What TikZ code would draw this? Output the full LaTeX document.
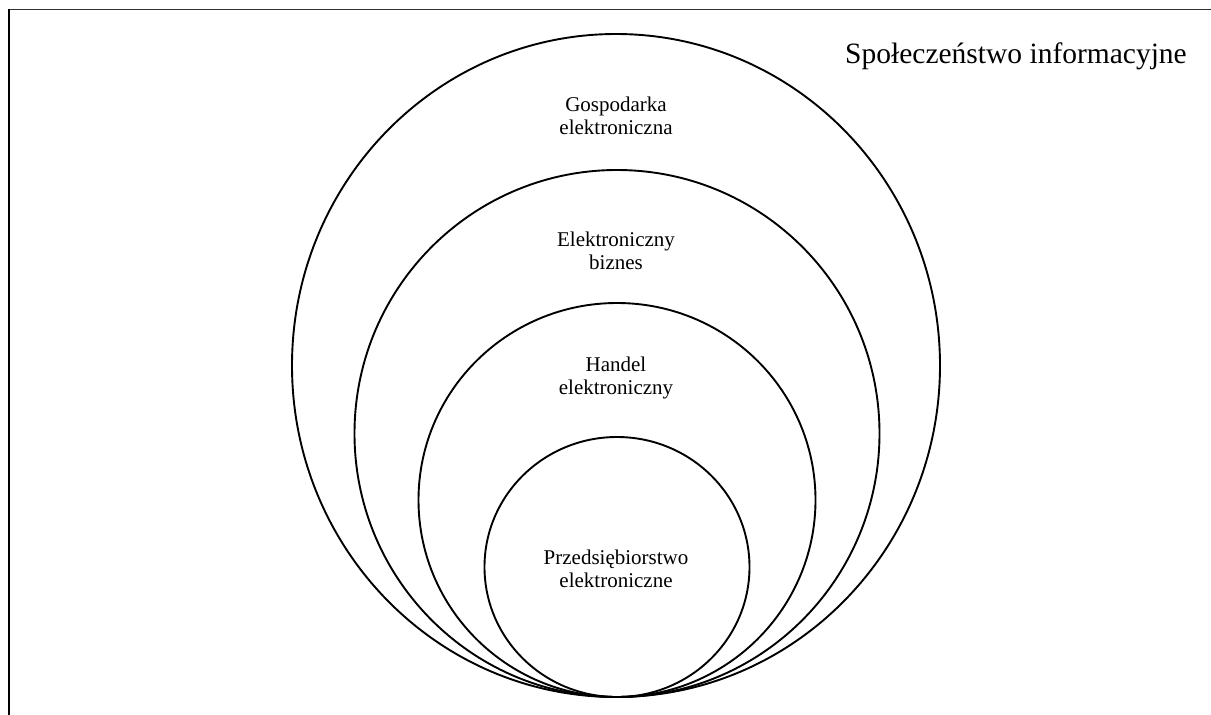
\documentclass[tikz,border=0pt]{standalone}
\usepackage{fontspec}
\setmainfont{Liberation Serif}
\usetikzlibrary{shapes.geometric}
\begin{document}
\begin{tikzpicture}[x=1pt,y=-1pt,
  ring/.style={ellipse, draw=black, line width=1.9pt, inner sep=0pt, outer sep=0pt},
  label/.style={align=center, inner sep=0pt, font=\fontsize{21}{23}\selectfont},
  title/.style={inner sep=0pt, font=\fontsize{29.5}{34}\selectfont}]
  \useasboundingbox (0,0) rectangle (1211,715);
  % corner frame: top and left edges only
  \draw[line width=1.8pt, black!80] (9,9.5) -- (1211,9.5);
  \draw[line width=2.6pt] (9,8.5) -- (9,715);
  % nested rings, all touching at the bottom point
  \node[ring, minimum width=648pt, minimum height=663pt] (eco)  at (616,365.5) {};
  \node[ring, minimum width=525pt, minimum height=527pt] (biz)  at (617,433.5) {};
  \node[ring, minimum width=397pt, minimum height=394pt] (com)  at (617,500)   {};
  \node[ring, minimum width=265pt, minimum height=260pt] (ent)  at (617,567)   {};
  % labels
  \node[title] (soc) at (1016,56) {Społeczeństwo informacyjne};
  \node[label] (teco) at (616,116) {Gospodarka\\elektroniczna};
  \node[label] (tbiz) at (616,251) {Elektroniczny\\biznes};
  \node[label] (tcom) at (616,378) {Handel\\elektroniczny};
  \node[label] (tent) at (616,569) {Przedsiębiorstwo\\elektroniczne};
\end{tikzpicture}
\end{document}
